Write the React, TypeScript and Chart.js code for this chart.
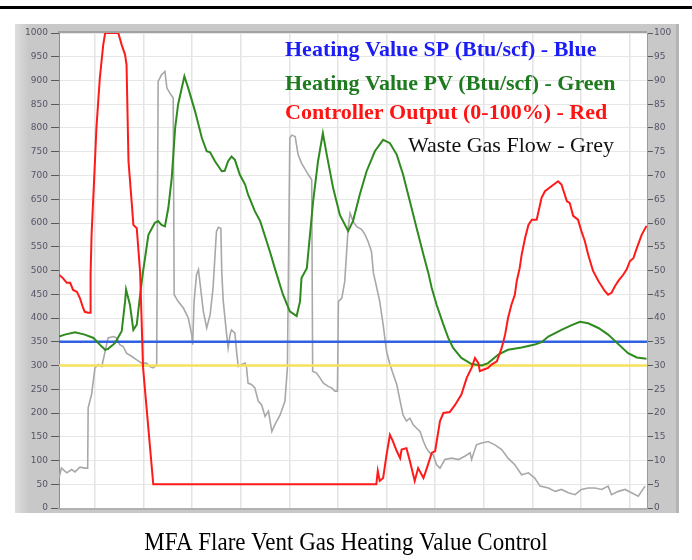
import React, { useEffect, useRef } from "react";
import { Chart, registerables } from "chart.js";

Chart.register(...registerables);

// ---- data (time in minutes, grid every 10) ----
const timeMin = -7.4;
const timeMax = 113.6;

const setpointValue = 350; // Heating Value SP (Btu/scf)
const lowerLimitValue = 300; // yellow reference line

// Controller output (0-100 %), right axis
const controllerOutput: [number, number][] = [
  [-7.4, 49.1], [-6.6, 48.4], [-5.8, 47.4], [-5.1, 47.4], [-4.5, 45.9], [-3.7, 45.5],
  [-3.1, 44.2], [-2.5, 42.3], [-2.1, 41.3], [-1.4, 41.1], [-1.0, 41.1], [-0.9, 49.1],
  [-0.7, 57.5], [0.0, 73.0], [0.3, 80.0], [1.0, 90.5], [1.7, 97.5], [2.1, 100],
  [4.8, 100], [5.5, 97.5], [6.2, 95.4], [6.5, 93.3], [6.9, 73.0], [7.6, 63.8],
  [7.9, 59.6], [8.6, 58.9], [9.3, 49.5], [9.9, 29.5], [12.0, 5], [57.9, 5],
  [58.2, 7.8], [58.6, 5.7], [59.3, 6.3], [60.0, 11.2], [60.7, 15.4], [61.3, 14.1],
  [62.1, 12.0], [62.8, 10.5], [63.1, 12.3], [64.1, 12.6], [64.8, 9.9], [65.8, 5.7],
  [66.5, 8.4], [67.6, 6.3], [68.3, 8.4], [69.3, 11.6], [70.0, 12.0], [71.0, 18.3],
  [71.7, 20.0], [73.0, 20.2], [74.1, 21.7], [75.4, 23.9], [76.5, 27.4], [77.5, 29.5],
  [78.2, 31.6], [78.9, 30.5], [79.2, 28.8], [79.9, 29.1], [80.9, 29.5], [81.6, 30.2],
  [82.7, 30.9], [83.7, 33.7], [84.4, 36.5], [85.0, 40.0], [85.7, 42.8], [86.4, 44.9],
  [86.8, 47.8], [87.4, 50.5], [87.8, 53.3], [88.5, 56.8], [89.2, 59.6], [89.9, 60.7],
  [90.9, 60.7], [91.9, 65.3], [92.6, 66.7], [94.0, 67.8], [95.3, 68.8], [96.0, 68.1],
  [97.1, 64.6], [97.7, 64.2], [98.4, 61.5], [99.4, 60.7], [100.1, 58.3], [100.8, 56.2],
  [101.5, 53.3], [102.5, 49.9], [103.6, 47.8], [104.9, 45.7], [105.6, 44.9], [106.3, 45.3],
  [107.0, 46.7], [107.7, 47.8], [108.7, 49.1], [109.4, 50.2], [110.1, 52.0], [110.8, 52.6],
  [111.5, 54.7], [112.5, 57.5], [113.5, 59.4],
];

// Heating value PV (Btu/scf), left axis
const heatingValuePV: [number, number][] = [
  [-7.4, 361], [-6.2, 365], [-4.1, 370], [-2.1, 365], [-0.3, 358], [1.0, 344],
  [2.1, 333], [2.7, 335], [4.1, 347], [5.5, 372], [6.2, 435], [6.4, 460],
  [7.2, 428], [7.9, 375], [8.6, 386], [9.3, 449], [9.9, 498], [11.0, 575],
  [12.3, 600], [13.0, 604], [13.7, 596], [14.4, 593], [15.1, 632], [15.8, 695],
  [16.5, 800], [17.1, 849], [18.4, 909], [19.2, 884], [20.6, 835], [22.0, 779],
  [23.0, 751], [23.7, 749], [24.7, 730], [26.1, 709], [26.7, 710], [27.4, 730],
  [28.1, 740], [28.8, 733], [29.8, 702], [30.9, 681], [31.5, 660], [32.9, 625],
  [34.0, 604], [36.0, 540], [37.0, 505], [38.7, 449], [40.1, 414], [41.5, 404],
  [42.2, 435], [42.5, 484], [43.6, 505], [44.9, 646], [45.9, 730], [46.9, 789],
  [47.7, 744], [49.0, 674], [50.4, 617], [52.1, 583], [53.1, 604], [54.5, 660],
  [55.9, 709], [57.6, 751], [59.3, 775], [60.7, 768], [62.1, 744], [63.4, 702],
  [64.8, 646], [66.2, 589], [67.6, 533], [68.6, 495], [69.3, 463], [70.3, 428],
  [71.7, 386], [72.7, 358], [73.7, 337], [75.4, 316], [77.5, 303], [79.6, 300],
  [80.9, 305], [83.0, 323], [85.0, 333], [87.8, 338], [90.5, 344], [91.9, 349],
  [93.3, 361], [96.0, 375], [98.1, 385], [99.8, 392], [101.5, 389], [103.6, 379],
  [105.6, 365], [107.7, 345], [109.7, 326], [111.5, 317], [113.5, 314],
];

// Waste gas flow, left axis
const wasteGasFlow: [number, number][] = [
  [-7.4, 63], [-6.9, 84], [-5.8, 74], [-4.8, 81], [-4.1, 76], [-3.1, 86],
  [-2.1, 84], [-1.5, 84], [-1.4, 211], [-0.7, 239], [0.0, 295], [0.7, 302],
  [1.4, 298], [2.1, 330], [2.7, 358], [3.8, 361], [4.5, 358], [5.1, 344],
  [5.8, 340], [6.5, 326], [7.6, 319], [8.6, 312], [9.6, 305], [10.6, 305],
  [11.3, 298], [12.0, 295], [12.3, 298], [12.7, 300], [13.0, 898], [13.7, 912],
  [14.4, 919], [14.8, 884], [15.4, 874], [16.1, 863], [16.3, 449], [17.1, 435],
  [18.2, 421], [19.2, 400], [19.9, 365], [20.1, 344], [20.4, 435], [20.9, 491],
  [21.3, 502], [22.3, 414], [23.0, 379], [23.7, 407], [24.3, 463], [25.0, 582],
  [25.4, 591], [25.9, 589], [26.1, 495], [26.4, 435], [27.1, 365], [27.4, 337],
  [27.8, 365], [28.1, 375], [28.8, 368], [29.2, 323], [29.5, 298], [30.2, 302],
  [30.9, 305], [31.2, 295], [31.5, 263], [32.2, 260], [32.9, 253], [33.6, 225],
  [34.3, 217], [35.0, 193], [35.7, 204], [36.4, 161], [37.0, 175], [38.1, 196],
  [39.1, 225], [39.6, 295], [40.1, 779], [40.5, 785], [41.2, 782], [41.8, 744],
  [42.5, 726], [43.9, 702], [44.6, 691], [44.8, 288], [45.6, 284], [46.3, 274],
  [47.0, 263], [48.0, 256], [48.7, 253], [49.4, 246], [49.9, 246], [50.1, 435],
  [50.8, 442], [51.4, 477], [52.1, 589], [52.5, 621], [53.1, 604], [53.8, 593],
  [54.9, 586], [55.6, 575], [56.2, 561], [56.9, 540], [57.3, 495], [58.0, 463],
  [58.6, 435], [59.3, 386], [60.0, 330], [60.7, 302], [61.4, 281], [62.1, 260],
  [62.8, 225], [63.4, 196], [64.1, 183], [64.8, 189], [65.5, 175], [66.2, 168],
  [66.9, 161], [67.6, 140], [68.2, 126], [68.9, 116], [69.6, 112], [70.3, 91],
  [71.0, 84], [72.0, 102], [73.4, 105], [74.8, 102], [76.1, 109], [77.2, 116],
  [77.5, 102], [78.5, 133], [79.6, 137], [80.9, 140], [82.3, 133], [83.7, 123],
  [85.0, 105], [86.4, 91], [87.8, 70], [89.2, 74], [90.5, 63], [91.6, 46],
  [93.3, 42], [94.7, 35], [96.0, 39], [97.4, 32], [98.8, 28], [100.1, 39],
  [101.5, 42], [102.9, 42], [104.3, 39], [105.6, 46], [106.3, 28], [107.7, 35],
  [109.1, 39], [110.4, 32], [111.8, 25], [113.2, 46],
];

const legendLines = [
  { text: "Heating Value SP (Btu/scf) - Blue", color: "#1c1cf5", bold: true },
  { text: "Heating Value PV (Btu/scf) - Green", color: "#1e7a1e", bold: true },
  { text: "Controller Output (0-100%) - Red", color: "#ff1414", bold: true },
  { text: "Waste Gas Flow - Grey", color: "#111111", bold: false },
];
const titleText = "MFA Flare Vent Gas Heating Value Control";

const toXY = (pts: [number, number][]) => pts.map(([x, y]) => ({ x, y }));

export default function App() {
  const ref = useRef<HTMLCanvasElement | null>(null);

  useEffect(() => {
    document.body.style.margin = "0";
    const canvas = ref.current;
    if (!canvas) return;

    const panelPlugin = {
      id: "panel",
      beforeDraw(chart: any) {
        const { ctx, chartArea: a, width } = chart;
        ctx.save();
        ctx.fillStyle = "#ffffff";
        ctx.fillRect(0, 0, width, chart.height);
        ctx.fillStyle = "#000000";
        ctx.fillRect(0, 6, width, 3);
        // gray panel
        ctx.fillStyle = "#c8c8c8";
        ctx.fillRect(15, 24, 664, 489);
        const lg = ctx.createLinearGradient(15, 0, 30, 0);
        lg.addColorStop(0, "#dedede");
        lg.addColorStop(1, "#c6c6c6");
        ctx.fillStyle = lg;
        ctx.fillRect(15, 24, 15, 489);
        ctx.fillStyle = "#b4b4b4";
        ctx.fillRect(676, 24, 3, 489);
        // plot area
        ctx.fillStyle = "#ffffff";
        ctx.fillRect(a.left, a.top, a.right - a.left, a.bottom - a.top);
        ctx.restore();
      },
      afterDraw(chart: any) {
        const { ctx, chartArea: a } = chart;
        ctx.save();
        // frame
        ctx.fillStyle = "#a2a2a2";
        ctx.fillRect(a.left - 1, a.top - 2, a.right - a.left + 1, 2);
        ctx.fillStyle = "#b0b0b0";
        ctx.fillRect(a.left - 1, a.bottom, a.right - a.left + 1, 2);
        // legend texts
        const baselines = [56, 90, 119, 152];
        const xs = [285, 285, 285, 408];
        legendLines.forEach((l, i) => {
          ctx.font = `${l.bold ? "bold " : ""}22px "Liberation Serif"`;
          ctx.fillStyle = l.color;
          ctx.textAlign = "left";
          ctx.textBaseline = "alphabetic";
          ctx.fillText(l.text, xs[i], baselines[i]);
        });
        // title
        ctx.translate(346, 550);
        ctx.scale(1, 1.1);
        ctx.font = '23px "Liberation Serif"';
        ctx.fillStyle = "#000000";
        ctx.textAlign = "center";
        ctx.fillText(titleText, 0, 0);
        ctx.restore();
      },
    };

    const tickFont = { family: "DejaVu Sans", size: 9 };
    const plainLabel = (v: any) => String(v);
    const chart = new Chart(canvas, {
      type: "line",
      data: {
        datasets: [
          {
            label: "Waste Gas Flow",
            data: toXY(wasteGasFlow),
            borderColor: "#a8a8a8",
            borderWidth: 1.6,
            yAxisID: "y",
            order: 5,
          },
          {
            label: "Lower limit",
            data: [
              { x: timeMin, y: lowerLimitValue },
              { x: timeMax, y: lowerLimitValue },
            ],
            borderColor: "#f6e15e",
            borderWidth: 2.5,
            yAxisID: "y",
            order: 4,
          },
          {
            label: "Heating Value SP",
            data: [
              { x: timeMin, y: setpointValue },
              { x: timeMax, y: setpointValue },
            ],
            borderColor: "#2e62e0",
            borderWidth: 2.5,
            yAxisID: "y",
            order: 3,
          },
          {
            label: "Heating Value PV",
            data: toXY(heatingValuePV),
            borderColor: "#2f8a1f",
            borderWidth: 2,
            yAxisID: "y",
            order: 2,
          },
          {
            label: "Controller Output",
            data: toXY(controllerOutput),
            borderColor: "#ff1a1a",
            borderWidth: 2,
            yAxisID: "y1",
            order: 1,
          },
        ],
      },
      options: {
        animation: false,
        responsive: false,
        devicePixelRatio: 1,
        parsing: true,
        elements: { point: { radius: 0 }, line: { tension: 0 } },
        layout: { padding: { left: 15, right: 13, top: 33, bottom: 52 } },
        plugins: { legend: { display: false }, tooltip: { enabled: false }, title: { display: false } },
        scales: {
          x: {
            type: "linear",
            min: timeMin,
            max: timeMax,
            ticks: { display: false, stepSize: 10, includeBounds: false },
            grid: { color: "#e4e4e4", lineWidth: 1.5, drawTicks: false },
            border: { display: false },
            afterFit: (s: any) => {
              s.height = 0;
            },
          },
          y: {
            position: "left",
            min: 0,
            max: 1000,
            ticks: { stepSize: 50, color: "#545468", font: tickFont, padding: 3, callback: plainLabel },
            grid: { color: "#e6e6e6", lineWidth: 1, tickLength: 8, tickColor: "#5a5a5a" },
            border: { display: true, color: "#8c8c8c", width: 1 },
            afterFit: (s: any) => {
              s.width = 44;
            },
          },
          y1: {
            position: "right",
            min: 0,
            max: 100,
            ticks: { stepSize: 5, color: "#545468", font: tickFont, padding: 1, callback: plainLabel },
            grid: { drawOnChartArea: false, tickLength: 6, tickColor: "#5a5a5a" },
            border: { display: true, color: "#9a9a9a", width: 1 },
            afterFit: (s: any) => {
              s.width = 32;
            },
          },
        },
      },
      plugins: [panelPlugin],
    } as any);

    return () => chart.destroy();
  }, []);

  return <canvas ref={ref} width={692} height={560} style={{ display: "block" }} />;
}
